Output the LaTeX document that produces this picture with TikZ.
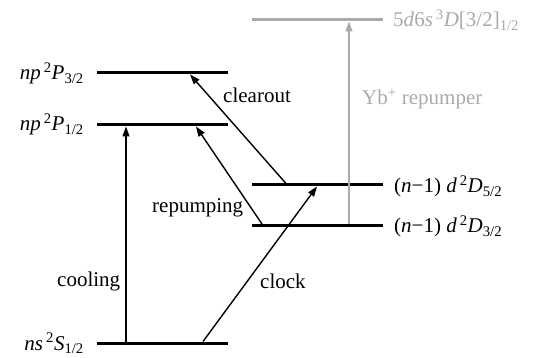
\documentclass[tikz,border=0pt]{standalone}
\usepackage{fontspec}
\setmainfont{Liberation Serif}
\usetikzlibrary{arrows.meta}
\definecolor{lgray}{RGB}{170,170,170}
\tikzset{
  level/.style={line width=3pt},
  trans/.style={line width=1.4pt,-{Triangle[length=10pt,width=7pt]}},
  lbl/.style={inner sep=0pt,font=\fontsize{21}{25}\selectfont},
}
\begin{document}
\begin{tikzpicture}[x=1pt,y=-1pt]
\useasboundingbox (0,0) rectangle (549,358);
% levels
\draw[level] (97,73) -- (228,73);
\draw[level] (97,125) -- (228,125);
\draw[level] (97,343) -- (228,343);
\draw[level] (252,185) -- (383,185);
\draw[level] (252,225.5) -- (383,225.5);
\draw[level,lgray] (252,20) -- (383,20);
% labels of levels
\node[lbl,anchor=base east] (lP3) at (84,80) {\textit{np}\kern3pt\textsuperscript{2}\textit{P}\textsubscript{3/2}};
\node[lbl,anchor=base east] (lP1) at (84,131) {\textit{np}\kern3pt\textsuperscript{2}\textit{P}\textsubscript{1/2}};
\node[lbl,anchor=base east] (lS) at (84,350) {\textit{ns}\kern3pt\textsuperscript{2}\textit{S}\textsubscript{1/2}};
\node[lbl,anchor=base west] (lD5) at (394,193) {(\textit{n}−1) \textit{d}\kern3pt\textsuperscript{2}\textit{D}\textsubscript{5/2}};
\node[lbl,anchor=base west] (lD3) at (394,233) {(\textit{n}−1) \textit{d}\kern3pt\textsuperscript{2}\textit{D}\textsubscript{3/2}};
\node[lbl,anchor=base west,text=lgray] (lY) at (393,27) {5\textit{d}6\textit{s}\kern3pt\textsuperscript{3}\textit{D}[3/2]\textsubscript{1/2}};
% arrow endpoints
\coordinate (coolA) at (126,341.5);
\coordinate (coolB) at (126,126.5);
\coordinate (clockA) at (203,341.5);
\coordinate (clockB) at (317,186.5);
\coordinate (repA) at (262,224);
\coordinate (repB) at (196,126.5);
\coordinate (clA) at (286,183.5);
\coordinate (clB) at (190,74.5);
\coordinate (ybA) at (349,224);
\coordinate (ybB) at (349,21.5);
% transitions
\draw[trans] (coolA) -- (coolB);
\draw[trans] (clockA) -- (clockB);
\draw[trans] (repA) -- (repB);
\draw[trans] (clA) -- (clB);
\draw[trans,lgray] (ybA) -- (ybB);
% transition labels
\node[lbl,anchor=base west] (tcool) at (57,287) {cooling};
\node[lbl,anchor=base west] (tclock) at (260,288) {clock};
\node[lbl,anchor=base west] (trep) at (152,213) {repumping};
\node[lbl,anchor=base west] (tclear) at (223,103) {clearout};
\node[lbl,anchor=base west,text=lgray] (tyb) at (362,105) {Yb\textsuperscript{+} repumper};
\end{tikzpicture}
\end{document}
